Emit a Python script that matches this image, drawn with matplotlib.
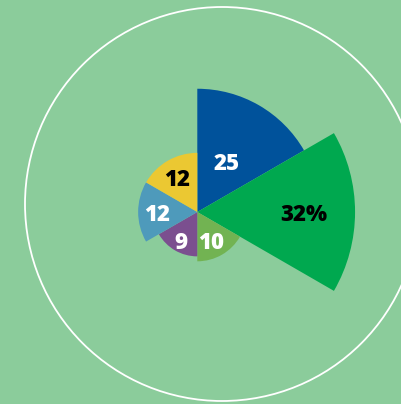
import numpy as np
import matplotlib
matplotlib.use("Agg")
import matplotlib.pyplot as plt
from matplotlib.patches import Ellipse

values = [25, 32, 10, 9, 12, 12]
labels = ["25", "32%", "10", "9", "12", "12"]
colors = ["#00529b", "#00a84f", "#72b352", "#7b4f8f", "#4e9abb", "#ebc832"]
label_colors = ["white", "black", "white", "white", "white", "black"]

BG = "#8bcc9b"
W, H = 401, 404
fig = plt.figure(figsize=(W / 100, H / 100), dpi=100, facecolor=BG)

# polar axes geometry (pixels)
cx, cy = 197.3, 212.0
rmax = 35.0
px_per_unit = 4.93
R = rmax * px_per_unit
ax = fig.add_axes([(cx - R) / W, (H - cy - R) / H, 2 * R / W, 2 * R / H],
                  projection="polar")
ax.set_facecolor("none")
ax.set_theta_zero_location("N")
ax.set_theta_direction(-1)
ax.set_ylim(0, rmax)
ax.axis("off")

n = len(values)
width = 2 * np.pi / n
thetas = np.arange(n) * width
ax.bar(thetas, values, width=width, align="edge", color=colors,
       edgecolor="none", linewidth=0)

# label placement
label_frac = [0.48, 0.675, 0.63, 0.72, 0.68, 0.68]
label_theta_off = [0.5, 0.5, 0.55, 0.5, 0.5, 0.5]
for i, (v, lab, lc) in enumerate(zip(values, labels, label_colors)):
    th = thetas[i] + width * label_theta_off[i]
    ax.text(th, v * label_frac[i], lab, color=lc, ha="center",
            va="center_baseline",
            fontsize=16, fontweight="heavy", family=["Open Sans", "DejaVu Sans"])

# outer white circle
circ = Ellipse((222 / W, (H - 204) / H), 2 * 197 / W, 2 * 197 / H,
               transform=fig.transFigure, fill=False, edgecolor="white",
               linewidth=1.3)
fig.add_artist(circ)

fig.savefig("out.png", dpi=100, facecolor=BG)
